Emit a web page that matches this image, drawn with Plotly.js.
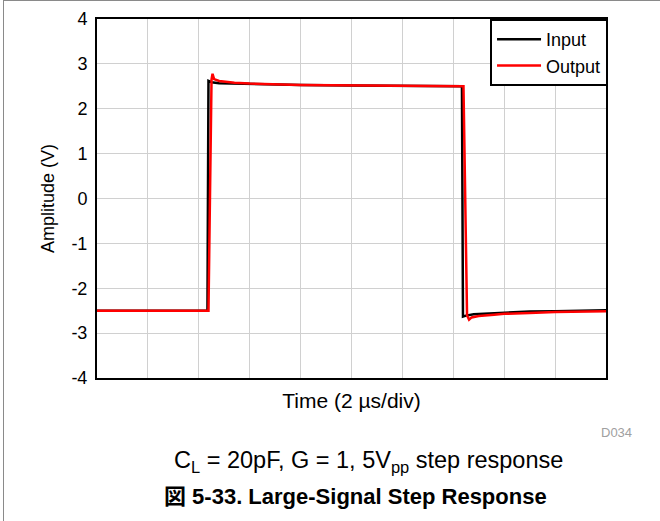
<!DOCTYPE html>
<html>
<head>
<meta charset="utf-8">
<script src="https://cdn.plot.ly/plotly-3.0.1.min.js"></script>
<style>
html,body{margin:0;padding:0;background:#fff;}
#wrap{position:relative;width:660px;height:521px;overflow:hidden;}
#chart{position:absolute;left:0;top:0;width:660px;height:521px;}
#frame{position:absolute;left:3px;top:0px;width:700px;height:600px;border-left:1px solid #8a8a8a;border-top:1px solid #8a8a8a;pointer-events:none;}
</style>
</head>
<body>
<div id="wrap"><div id="chart"></div><div id="frame"></div></div>
<script>
// time in divisions (2 µs/div)
const inputTime = [0, 1, 2, 2.17, 2.19, 2.25, 2.4, 2.7, 3, 4, 5, 6, 7.17, 7.19, 7.25, 7.4, 7.7, 8, 8.5, 9, 10];
const inputVals = [-2.5, -2.5, -2.5, -2.5, 2.62, 2.59, 2.57, 2.56, 2.55, 2.53, 2.52, 2.51, 2.5, -2.63, -2.61, -2.58, -2.56, -2.54, -2.52, -2.51, -2.49];

const outputTime = [0, 1, 2, 2.19, 2.25, 2.27, 2.3, 2.4, 2.7, 3, 4, 5, 6, 7.2, 7.27, 7.31, 7.36, 7.5, 7.8, 8, 8.5, 9, 10];
const outputVals = [-2.5, -2.5, -2.5, -2.5, 2.65, 2.78, 2.66, 2.62, 2.58, 2.56, 2.53, 2.52, 2.51, 2.5, -2.6, -2.7, -2.65, -2.62, -2.59, -2.57, -2.55, -2.53, -2.51];

const yTicks = [-4, -3, -2, -1, 0, 1, 2, 3, 4];
const xGrid = [0, 1, 2, 3, 4, 5, 6, 7, 8, 9, 10];

const FONT = 'Liberation Sans, Arial, sans-serif';

const traces = [
  {x: inputTime, y: inputVals, type: 'scatter', mode: 'lines', name: 'Input',
   line: {color: '#000000', width: 2.5}},
  {x: outputTime, y: outputVals, type: 'scatter', mode: 'lines', name: 'Output',
   line: {color: '#ff0000', width: 2.5}}
];

const layout = {
  width: 660, height: 521,
  margin: {l: 97, r: 54, t: 19, b: 143},
  paper_bgcolor: '#ffffff', plot_bgcolor: '#ffffff',
  font: {family: FONT, size: 18, color: '#000'},
  showlegend: true,
  legend: {x: 1.004, y: 1, xanchor: 'right', yanchor: 'top', bgcolor: '#fff',
           bordercolor: '#000', borderwidth: 2, font: {family: FONT, size: 18},
           itemwidth: 44, tracegroupgap: 0},
  xaxis: {range: [0, 10], tickvals: xGrid, showticklabels: false, ticks: '',
          showgrid: true, gridcolor: '#d0d0d0', gridwidth: 1, zeroline: false,
          showline: true, linecolor: '#000', linewidth: 2, mirror: true,
          title: {text: 'Time (2 µs/div)', font: {family: FONT, size: 21}, standoff: 14}},
  yaxis: {range: [-4, 4], tickvals: yTicks, ticktext: yTicks.map(String), ticks: '',
          showgrid: true, gridcolor: '#d0d0d0', gridwidth: 1, zeroline: false,
          showline: true, linecolor: '#000', linewidth: 2, mirror: true,
          tickfont: {family: FONT, size: 18}, ticklabelstandoff: 4,
          title: {text: 'Amplitude (V)', font: {family: FONT, size: 18}, standoff: 12}},
  annotations: [
    {text: 'D034', xref: 'paper', yref: 'paper', x: (634 - 97) / 509, y: (378 - 432) / 359,
     xanchor: 'right', yanchor: 'middle', showarrow: false,
     font: {family: FONT, size: 13, color: '#a0a0a0'}},
    {text: 'C<sub>L</sub> = 20pF, G = 1, 5V<sub>pp</sub> step response', xref: 'paper', yref: 'paper',
     x: (368 - 97) / 509, y: (378 - 461) / 359, xanchor: 'center', yanchor: 'middle', showarrow: false,
     font: {family: FONT, size: 23.5, color: '#000'}},
    {text: '<b>図 5-33. Large-Signal Step Response</b>', xref: 'paper', yref: 'paper',
     x: (355 - 97) / 509, y: (378 - 496) / 359, xanchor: 'center', yanchor: 'middle', showarrow: false,
     font: {family: FONT + ', Noto Sans CJK JP', size: 22, color: '#000'}}
  ]
};

Plotly.newPlot('chart', traces, layout, {displayModeBar: false, staticPlot: true});
</script>
</body>
</html>
